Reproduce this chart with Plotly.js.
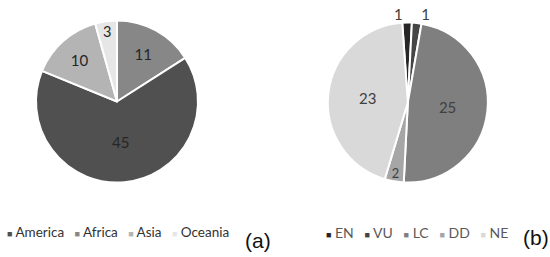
<!DOCTYPE html>
<html>
<head>
<meta charset="utf-8">
<script src="https://cdn.plot.ly/plotly-3.0.1.min.js"></script>
<style>html,body{margin:0;padding:0;background:#fff;}#chart{width:550px;height:257px;}</style>
</head>
<body>
<div id="chart"></div>
<script>
// Panel (a): regions (slice order as drawn clockwise from 12 o'clock)
var regionSliceLabels = ['Africa', 'America', 'Asia', 'Oceania'];
var regionSliceValues = [11, 45, 10, 3];
var regionSliceColors = ['#878787', '#505050', '#b4b4b4', '#e6e6e6'];
// legend order for panel (a)
var regionLegendLabels = ['America', 'Africa', 'Asia', 'Oceania'];
var regionLegendColors = ['#505050', '#878787', '#b4b4b4', '#e6e6e6'];

// Panel (b): IUCN status
var statusLabels = ['EN', 'VU', 'LC', 'DD', 'NE'];
var statusValues = [1, 1, 25, 2, 23];
var statusColors = ['#262626', '#454545', '#7f7f7f', '#a6a6a6', '#d9d9d9'];
var statusTextPos = ['outside', 'outside', 'inside', 'inside', 'inside'];

var pieA = {
  type: 'pie', labels: regionSliceLabels, values: regionSliceValues,
  sort: false, direction: 'clockwise', rotation: 0,
  marker: {colors: regionSliceColors, line: {color: '#ffffff', width: 2}},
  textinfo: 'value', textposition: 'inside', insidetextorientation: 'horizontal',
  textfont: {family: 'Lato, sans-serif', size: 15, color: '#262626'},
  domain: {x: [0.0655, 0.36], y: [0.288, 0.922]},
  showlegend: false, hoverinfo: 'label+value'
};
var pieB = {
  type: 'pie', labels: statusLabels, values: statusValues,
  sort: false, direction: 'clockwise', rotation: -4,
  marker: {colors: statusColors, line: {color: '#ffffff', width: 2}},
  textinfo: 'value', textposition: statusTextPos, insidetextorientation: 'horizontal',
  textfont: {family: 'Lato, sans-serif', size: 15, color: '#404040'},
  outsidetextfont: {family: 'Lato, sans-serif', size: 15, color: '#404040'},
  domain: {x: [0.596, 0.887], y: [0.288, 0.914]},
  showlegend: false, hoverinfo: 'label+value'
};

function legendHtml(labels, colors) {
  return labels.map(function (l, i) {
    return '<span style="color:' + colors[i] + ';font-size:9px">\u25A0</span>\u00a0' + l;
  }).join('\u00a0\u00a0\u00a0');
}

var layout = {
  width: 550, height: 257,
  margin: {l: 0, r: 0, t: 0, b: 0},
  paper_bgcolor: '#ffffff',
  showlegend: false,
  annotations: [
    {xref: 'paper', yref: 'paper', x: 5 / 550, y: 1 - 232 / 257, xanchor: 'left', yanchor: 'middle',
     showarrow: false, text: legendHtml(regionLegendLabels, regionLegendColors),
     font: {family: 'Lato, sans-serif', size: 13.5, color: '#333333'}},
    {xref: 'paper', yref: 'paper', x: 324 / 550, y: 1 - 232 / 257, xanchor: 'left', yanchor: 'middle',
     showarrow: false, text: legendHtml(statusLabels, statusColors),
     font: {family: 'Lato, sans-serif', size: 14, color: '#595959'}},
    {xref: 'paper', yref: 'paper', x: 243 / 550, y: 1 - 240 / 257, xanchor: 'left', yanchor: 'middle',
     showarrow: false, text: '(a)', font: {family: 'Liberation Sans, Arial, sans-serif', size: 21, color: '#111111'}},
    {xref: 'paper', yref: 'paper', x: 521 / 550, y: 1 - 237 / 257, xanchor: 'left', yanchor: 'middle',
     showarrow: false, text: '(b)', font: {family: 'Liberation Sans, Arial, sans-serif', size: 21, color: '#111111'}}
  ]
};

Plotly.newPlot('chart', [pieA, pieB], layout, {displayModeBar: false, staticPlot: true});
</script>
</body>
</html>
